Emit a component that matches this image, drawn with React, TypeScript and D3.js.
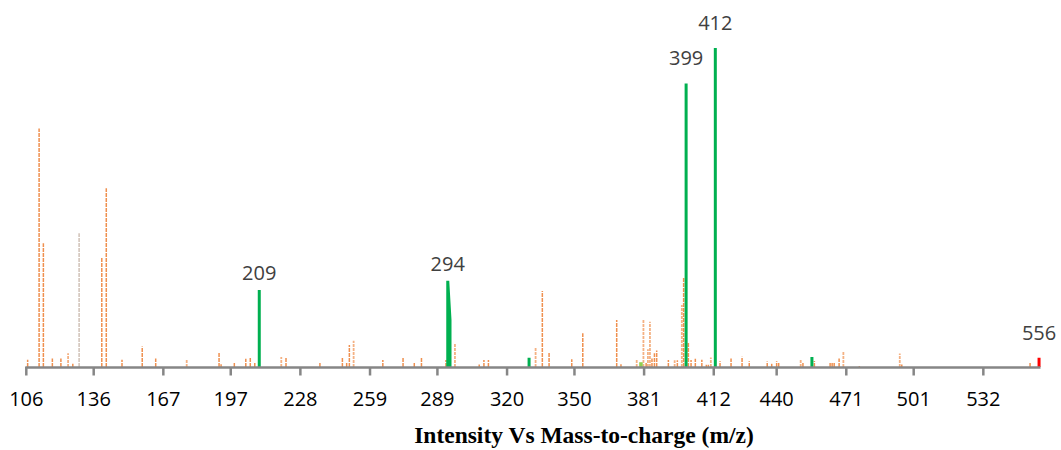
import React from "react";
import * as d3 from "d3";

const tickValues = [106, 136, 167, 197, 228, 259, 289, 320, 350, 381, 412, 440, 471, 501, 532];

// orange (dark tone) peaks: m/z, relative intensity
const orangeMz = [106.6, 111.7, 113.6, 117.6, 121.4, 126.7, 139.6, 141.6, 148.6, 157.6, 163.6, 191.8, 192.7, 198.6, 203.7, 205.7, 207.7, 209.6, 221.6, 236.7, 246.7, 248.6, 249.8, 264.7, 273.7, 278.7, 281.9, 292.8, 294.6, 307.6, 309.7, 311.7, 335.7, 338.7, 348.8, 353.7, 368.8, 370.7, 381.9, 384.5, 385.6, 386.6, 391.8, 395.8, 398.6, 400.7, 401.9, 403.8, 406.7, 408.7, 409.6, 414.8, 419.7, 424.6, 427.8, 435.8, 437.8, 440.0, 440.9, 451.7, 456.8, 463.8, 464.7, 465.6, 467.8, 476.8, 495.7, 552.8];
const orangeVal = [2.3, 74.8, 38.8, 2.7, 2.7, 1.0, 34.3, 56.0, 2.3, 6.4, 2.7, 4.4, 0.9, 1.6, 2.6, 3.0, 1.5, 8.5, 2.8, 1.4, 3.1, 1.4, 6.9, 2.2, 2.8, 1.3, 2.9, 2.2, 14.9, 0.8, 2.2, 2.2, 23.8, 4.4, 2.4, 10.6, 14.7, 0.9, 1.5, 2.7, 4.3, 5.2, 2.2, 2.1, 28.1, 7.6, 2.2, 2.6, 2.3, 0.7, 0.7, 1.8, 2.7, 3.2, 1.8, 1.7, 1.0, 1.8, 1.4, 1.5, 1.9, 1.4, 1.4, 1.5, 2.7, 0.3, 0.8, 1.4];

// orange (light tone) peaks
const lightMz = [124.6, 177.4, 219.5, 251.7, 296.8, 332.7, 377.7, 380.7, 382.7, 383.6, 394.6, 397.8, 410.7, 450.7, 469.7, 494.8];
const lightVal = [4.3, 2.3, 3.1, 8.2, 7.5, 6.0, 2.2, 14.7, 5.6, 14.2, 2.1, 19.4, 3.0, 2.5, 5.0, 4.2];

// grey peak
const greyMz = [129.5];
const greyVal = [41.9];

// green matched peaks (groups of connected points)
const greenGroups: [number, number][][] = [
  [[209.7, 24.1]],
  [[293.6, 27.0], [294.6, 14.7]],
  [[329.8, 2.9]],
  [[399.7, 88.9]],
  [[412.7, 100]],
  [[455.7, 3.1]],
];
const lightGreenMz = [379.6];
const lightGreenVal = [1.5];
const redMz = [556.8];
const redVal = [2.9];

const labelText = ["209", "294", "399", "412", "556"];
const labelMz = [209.7, 293.6, 399.7, 412.7, 556.8];
const labelVal = [24.1, 27.0, 88.9, 100, 2.9];

const W = 1061;
const H = 450;

export default function App() {
  const x = d3.scaleLinear().domain([106, 557]).range([26.3, 1039.5]);
  const y = d3.scaleLinear().domain([0, 100]).range([367, 48]);
  const base = y(0);

  const line = d3.line<[number, number]>().x((d) => d[0]).y((d) => d[1]);
  const greenPaths = greenGroups.map((g) => {
    const pts: [number, number][] = [];
    pts.push([x(g[0][0]), base]);
    g.forEach((p) => pts.push([x(p[0]), y(p[1])]));
    pts.push([x(g[g.length - 1][0]), base]);
    return line(pts) || "";
  });

  const labelGap = (v: number) => (v > 10 && v < 50 ? 10 : 18);

  return (
    <svg width={W} height={H} style={{ position: "absolute", left: 0, top: 0, background: "#fff" }}>
      <rect width={W} height={H} fill="#fff" />
      {greyMz.map((m, i) => (
        <line key={"g" + i} x1={x(m)} x2={x(m)} y1={base} y2={y(greyVal[i])} stroke="#c9b8ac" strokeWidth={1.3} strokeDasharray="4,1" />
      ))}
      {lightMz.map((m, i) => (
        <line key={"l" + i} x1={x(m)} x2={x(m)} y1={base} y2={y(lightVal[i])} stroke="#f4b183" strokeWidth={1.8} strokeDasharray="3,1" />
      ))}
      {orangeMz.map((m, i) => (
        <line key={"o" + i} x1={x(m)} x2={x(m)} y1={base} y2={y(orangeVal[i])} stroke="#ed7d31" strokeWidth={1.5} strokeDasharray="4,1" opacity={0.85} />
      ))}
      {greenPaths.map((d, i) => (
        <path key={"gr" + i} d={d} fill="none" stroke="#00b050" strokeWidth={3} strokeLinejoin="miter" />
      ))}
      {lightGreenMz.map((m, i) => (
        <line key={"lg" + i} x1={x(m)} x2={x(m)} y1={base} y2={y(lightGreenVal[i])} stroke="#92d050" strokeWidth={3.5} />
      ))}
      {redMz.map((m, i) => (
        <line key={"r" + i} x1={x(m)} x2={x(m)} y1={base} y2={y(redVal[i])} stroke="#ff0000" strokeWidth={3} />
      ))}
      {/* axis */}
      <line x1={x(106) - 1} x2={x(557) + 1} y1={base + 0.5} y2={base + 0.5} stroke="#868686" strokeWidth={2.5} />
      {tickValues.map((t) => (
        <g key={t}>
          <line x1={x(t)} x2={x(t)} y1={base} y2={base + 8.5} stroke="#868686" strokeWidth={2.5} />
          <text x={x(t)} y={405.5} textAnchor="middle" fontFamily="'Open Sans', sans-serif" fontSize={20} fill="#000">
            {t}
          </text>
        </g>
      ))}
      {labelText.map((t, i) => (
        <text key={t} x={x(labelMz[i])} y={y(labelVal[i]) - labelGap(labelVal[i])} textAnchor="middle" fontFamily="'Open Sans', sans-serif" fontSize={20} fill="#404040">
          {t}
        </text>
      ))}
      <text x={584} y={443} textAnchor="middle" fontFamily="'Liberation Serif', 'Times New Roman', serif" fontWeight="bold" fontSize={23.5} fill="#000">
        Intensity Vs Mass-to-charge (m/z)
      </text>
    </svg>
  );
}
